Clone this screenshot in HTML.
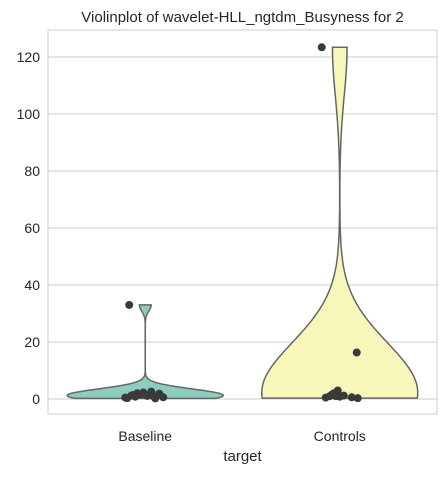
<!DOCTYPE html>
<html><head><meta charset="utf-8"><style>
body{margin:0;background:#fff;}
svg text{font-family:"Liberation Sans","DejaVu Sans",sans-serif;fill:#262626;}
</style></head><body>
<svg id="chart" width="446" height="473"></svg>
<script>
const categories=["Baseline","Controls"];
const baselineValues=[33,0.5,1.2,2.0,0.3,1.6,2.6,0.8,1.1,0.2,1.9,2.3,0.6,1.0,1.4];
const controlsValues=[123.4,16.3,0.5,1.0,2.0,3.0,1.5,0.8,1.2,0.6,0.3,1.0];
const baselineJitter=[-16,-20,-14,-8,-18,-4,6,-10,2,10,14,-2,18,8,-12];
const controlsJitter=[-18,17,-14,-10,-6,-2,-8,0,4,12,18,-4];
const yTicks=[0,20,40,60,80,100,120];
const seriesValues=[baselineValues,controlsValues];
const seriesJitter=[baselineJitter,controlsJitter];
const bwScale=[0.45,0.8];
const colors=["#8dcdc0","#f7f7bb"];

const NS="http://www.w3.org/2000/svg";
const svg=document.getElementById('chart');
const L=48,R=437,T=30,B=414;
const y=v=>399-2.85*v;
const x=i=>L+(R-L)*(i+0.5)/categories.length;
const maxHW=78;
function mk(t,a){const e=document.createElementNS(NS,t);for(const k in a)e.setAttribute(k,a[k]);svg.appendChild(e);return e;}

yTicks.forEach(t=>{
  const g=mk('line',{x1:L,x2:R,y1:y(t),y2:y(t),stroke:'#cccccc','stroke-width':1});
  
  
  const tx=mk('text',{x:L-8,y:y(t)+5,'text-anchor':'end','font-size':14});
  tx.textContent=t;
  
  
});

function kde(data,v,bw){let s=0;for(const d of data){const z=(v-d)/bw;s+=Math.exp(-0.5*z*z);}return s/(data.length*bw*Math.sqrt(2*Math.PI));}
seriesValues.forEach((data,i)=>{
  const n=data.length,m=data.reduce((a,b)=>a+b)/n;
  const sd=Math.sqrt(data.reduce((a,b)=>a+(b-m)*(b-m),0)/(n-1));
  const bw=sd*Math.pow(n,-0.2)*bwScale[i];
  const lo=Math.min(...data),hi=Math.max(...data);
  const N=300,pts=[];let mx=0;
  for(let k=0;k<=N;k++){const v=lo+(hi-lo)*k/N;const d=kde(data,v,bw);pts.push([v,d]);if(d>mx)mx=d;}
  const cx=x(i);
  let p=pts.map((q,k)=>(k?'L':'M')+(cx+q[1]/mx*maxHW).toFixed(1)+','+y(q[0]).toFixed(1)).join('');
  p+=pts.slice().reverse().map(q=>'L'+(cx-q[1]/mx*maxHW).toFixed(1)+','+y(q[0]).toFixed(1)).join('')+'Z';
  const v=mk('path',{d:p,fill:colors[i],stroke:'#666666','stroke-width':1.5});
  
  
});
seriesValues.forEach((data,i)=>{
  data.forEach((val,k)=>{
    const c=mk('circle',{cx:x(i)+seriesJitter[i][k],cy:y(val),r:4,fill:'#3a3a3a'});
    
    
  });
});
const fr=mk('rect',{x:L,y:T,width:R-L,height:B-T,fill:'none',stroke:'#cccccc','stroke-width':1});


categories.forEach((c,i)=>{
  const t=mk('text',{x:x(i),y:441,'text-anchor':'middle','font-size':14});
  t.textContent=c;
  
  
});
const xt=mk('text',{x:(L+R)/2,y:461,'text-anchor':'middle','font-size':15});
xt.textContent='target';


const tt=mk('text',{x:(L+R)/2,y:22,'text-anchor':'middle','font-size':15});
tt.textContent='Violinplot of wavelet-HLL_ngtdm_Busyness for 2';


</script>
</body></html>
